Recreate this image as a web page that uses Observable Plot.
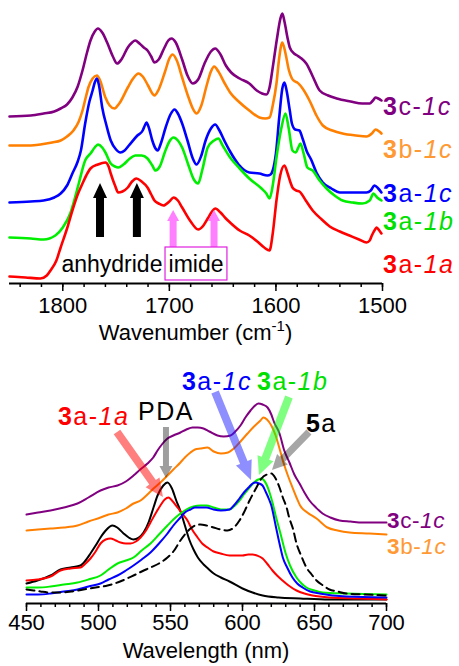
<!DOCTYPE html>
<html><head><meta charset="utf-8">
<script src="https://cdn.jsdelivr.net/npm/d3@7"></script>
<script src="https://cdn.jsdelivr.net/npm/@observablehq/plot@0.6"></script>
<style>
body{margin:0;background:#fff;}
#chart{width:459px;height:666px;}
#chart svg{display:block;}
</style></head><body><div id="chart"></div>
<script>
const FONT = '"Liberation Sans", Arial, Helvetica, sans-serif';

// ---------- IR spectra (wavenumber cm-1, offset absorbance a.u.) ----------
const ir3c1c = [[1850,167],[1830,168],[1818,170],[1808,172],[1802,175],[1796,179],[1791,186],[1786,197],[1781.5,213],[1777,232],[1774,243],[1770,252],[1767,255],[1763,251],[1758,240],[1753,227],[1749,220],[1745,224],[1739,236],[1735,241],[1732,243],[1728,240],[1724,236],[1720.5,233],[1717,227],[1714,221],[1710,224],[1705,235],[1701,243],[1698,245],[1694,241],[1688,224],[1683,208],[1678,200],[1673,204],[1667,220],[1661,232],[1657,235],[1652,229],[1647,218],[1642,211],[1634,205],[1625,200],[1618,193],[1613,190],[1609,189],[1606,196],[1603,216],[1599,245],[1596,264],[1594,270],[1592,262],[1589,245],[1587,236],[1583,230],[1580,228],[1576,225],[1571.5,220],[1565,206],[1559,193],[1551,188],[1543,185],[1530,182],[1519,180],[1512,180],[1509,183],[1506.5,186],[1504,185],[1501,183]];
const ir3b1c = [[1850,138],[1830,138],[1821,139],[1810,141],[1802,143],[1796,147],[1790,153],[1785,162],[1781.5,173],[1778,188],[1776,196],[1772,205],[1768,208],[1765,203],[1760,186],[1756,178],[1751.5,175],[1747,180],[1739,196],[1734,205],[1729,210],[1725,207],[1720,198],[1716,190],[1714,188],[1710,194],[1704,212],[1700,225],[1697,229],[1693,223],[1688,206],[1682,186],[1678,175],[1674.5,170],[1670,178],[1665,198],[1661,212],[1658,217],[1654,212],[1648,200],[1643,191],[1635,182],[1625,173],[1615.5,166],[1610,165],[1606,166],[1603,178],[1599.5,200],[1597,225],[1594,241],[1591,230],[1588,214],[1585,205],[1582,202],[1580,201],[1575,195],[1568.5,183],[1562,168],[1556,158],[1547,153],[1537.5,150],[1525,148],[1515,147],[1510,150],[1506.5,154],[1503,152],[1501,150]];
const ir3a1c = [[1850,81],[1830,82],[1818,83],[1808,86],[1802,90],[1796,98],[1791,110],[1786,122],[1783,133],[1779,160],[1775,182],[1772,193],[1770,201],[1768,205],[1766,198],[1763,176],[1759,158],[1755,143],[1750,134],[1746,131],[1742,133],[1738,138],[1730,148],[1725,153],[1723,158],[1721.5,161],[1719,155],[1716,143],[1713,135],[1711,133],[1708,140],[1703.5,156],[1699,169],[1695,174],[1692,170],[1688,160],[1683,143],[1678,125],[1674.5,119],[1670,128],[1666,143],[1661,155],[1657,159],[1653,153],[1648,142],[1643,132],[1635,119],[1625,111],[1615.5,110],[1608,108],[1605,109],[1603,113],[1600,130],[1597,165],[1594,195],[1592,201],[1590,193],[1587,173],[1585,160],[1582,154],[1578,153],[1575,145],[1571,132],[1567,124],[1562,111],[1556,101],[1548,95],[1540,91],[1528,91],[1515,91],[1511,93],[1507.5,98],[1504,95],[1501,91]];
const ir3a1b = [[1850,46],[1830,45],[1818,44],[1807,48],[1800,56],[1793,70],[1789,84],[1785,100],[1779,123],[1774,130],[1770,136],[1767,139],[1763,136],[1760,131],[1755,120],[1751,117],[1748,116],[1743,119],[1737,125],[1732,128],[1726,128],[1720.5,125],[1716,118],[1713,113],[1709,117],[1704,132],[1700,142],[1696,146],[1692,143],[1688,136],[1682,118],[1677,104],[1673,100],[1669,114],[1664,136],[1658,143],[1654,145],[1650,138],[1643,126],[1634,115],[1625,105],[1613.5,95],[1609,90],[1606,85],[1603,98],[1599.5,126],[1595,155],[1591,170],[1588,155],[1584.5,133],[1581.5,131],[1579,136],[1577,140],[1574,130],[1570.5,116],[1565.5,113],[1559,103],[1552.5,95],[1545,88],[1537.5,83],[1528,81],[1519,80],[1512,83],[1508.5,90],[1505,86],[1501,83]];
const ir3a1a = [[1850,7],[1835,6],[1821,5],[1815,8],[1811.5,13],[1806,23],[1802,36],[1796,55],[1791,73],[1786,89],[1781.5,100],[1777,110],[1774,115],[1767,119],[1760,121],[1757,117],[1755,110],[1751,98],[1748,91],[1744,92],[1739,96],[1735,102],[1731,105],[1726,102],[1720.5,96],[1717,89],[1714,83],[1710,80],[1705.5,78],[1700,82],[1696,86],[1692,83],[1688,76],[1680,62],[1673,54],[1668,58],[1664,65],[1660,72],[1657,75],[1652,71],[1647,65],[1643,61],[1634,53],[1625,48],[1617.5,42],[1611,36],[1606,33],[1603,50],[1599.5,83],[1596,108],[1592,118],[1589,110],[1586,100],[1584.5,96],[1581,93],[1578,92],[1572,83],[1565.5,73],[1557,64],[1549.5,57],[1540,52],[1531,48],[1522,44],[1515,41],[1512,43],[1510,48],[1507,54],[1505.5,56],[1503,53],[1501,50]];
const irNames  = ["3c-1c","3b-1c","3a-1c","3a-1b","3a-1a"];
const irValues = [ir3c1c, ir3b1c, ir3a1c, ir3a1b, ir3a1a];
const irMajorTicks = [1800,1700,1600,1500];
const irMinorTicks = d3.range(1500, 1841, 20);

// ---------- UV-vis spectra (wavelength nm, offset absorbance a.u.) ----------
const uv3c1c = [[450,89],[458,91],[466.7,93],[476,96],[485.4,100],[493,106],[501.4,113],[507,116],[513.2,118],[519,122],[524.3,128],[529,134],[534,140],[538,146],[541,153],[544,159],[547.9,165],[552,168],[556.9,171],[561,174],[565.3,176],[569,176],[572.9,175],[577,172],[582.6,168],[587,167],[591.7,168],[595,172],[598.6,178],[602,186],[605.6,193],[608,197],[611,200],[614,199],[617.4,196],[620,189],[622,181],[625.7,170],[629,153],[632.6,141],[636,129],[639.6,120],[643,111],[646.5,103],[651,96],[655.6,90],[661,86],[667.4,83],[675,82],[683.3,81],[700,81]];
const uv3b1c = [[450,73],[458,74],[466.7,75],[476,76],[485.4,78],[493,82],[501.4,86],[507,89],[513.2,91],[519,95],[524.3,100],[529.2,103],[534,109],[538.2,115],[543,121],[547.9,128],[552,134],[556.9,141],[560,146],[563.9,151],[567,154],[570.8,155],[575.7,156],[580,152],[585,150],[590,151],[594,155],[598.6,162],[603.5,170],[608,177],[612.5,183],[614.5,186],[617,184],[620,178],[623,168],[625.7,155],[628,143],[631,130],[634.7,116],[637.5,106],[640,98],[645,91],[651.4,85],[659,76],[666,73],[674.3,71],[688.2,70],[700,69]];
const uvPDA  = [[450,20],[457.6,23],[466.7,28],[473.6,34],[480.6,36],[487.5,38],[491,43],[494.4,50],[498,58],[501.4,66],[505,73],[509.7,78],[513,76],[517.4,70],[521,66],[524.3,64],[528,66],[531.3,71],[535,82],[538.2,96],[541,108],[545,118],[547.9,121],[551,115],[554,103],[557,92],[560,78],[563,64],[566,54],[569,46],[573,39],[576,35],[580,30],[585,26],[591,22],[600,15],[607,11],[614,8],[625,6],[640,5],[660,4],[700,4]];
const uv3a1a = [[450,23],[457.6,24],[466.7,27],[473.6,33],[480.6,35],[487.5,36],[491,40],[494.4,45],[498,52],[501.4,60],[505,64],[508.3,65],[512,63],[515.3,61],[519,60],[522.2,60],[526,62],[529.2,66],[533,73],[536.1,81],[540,91],[543,98],[546,104],[548.6,106],[551,103],[554.9,96],[558,90],[561.8,83],[565,74],[568.8,66],[572,60],[575.7,56],[580,52],[584.7,50],[591,48],[596,48],[600,48],[604,49],[607,49],[610,48],[614,45],[617,40],[620.8,33],[624,28],[627.8,23],[632,18],[637.5,13],[643,10],[648.6,8],[660.4,6],[680,5],[700,4]];
const uv3a1b = [[450,16],[458,16],[466.7,17],[476,19],[485.4,21],[493,24],[501.4,28],[507,34],[513.2,40],[519,43],[524.3,46],[530,53],[536.1,60],[542,69],[547.9,78],[552,84],[556.9,90],[561,94],[566,97],[570.8,98],[575,98],[579.9,96],[585,94],[591,94],[594,97],[597.9,103],[601,109],[604.9,116],[608,121],[611,124],[613,125],[615,123],[617,118],[619,110],[621,100],[623,88],[626,72],[630,50],[633,38],[637.5,26],[641,20],[644.4,16],[650,13],[655.6,11],[672,10],[700,9]];
const uv3a1c = [[450,9],[458,9],[466.7,10],[476,12],[485.4,14],[493,17],[501.4,20],[507,24],[513.2,28],[519,33],[524.3,38],[530,44],[536.1,51],[542,60],[547.9,70],[552,78],[556.9,86],[560,91],[563.9,94],[567,96],[570.8,96],[575,96],[579.9,94],[585,93],[591,94],[594,98],[597.9,105],[601,111],[604.9,117],[607,120],[609,121],[611.5,120],[613.9,118],[616,112],[618.75,103],[620,98],[623,78],[626,58],[628,46],[631,36],[634.7,26],[638,20],[641.7,16],[647,12],[653.5,10],[672,7],[700,6]];
const uv5a   = [[450,14],[455,13],[459.7,12],[466,11],[473.6,11],[481,12],[489.6,14],[498,16],[506.3,18],[515,22],[524.3,28],[530,32],[536.1,36],[542,40],[547.9,46],[552,52],[556.9,63],[560,69],[563.9,75],[567,78],[570.8,79],[575,78],[579.9,76],[585,74],[589.6,73],[594,76],[597.9,83],[601,91],[604.9,103],[609.7,116],[613.2,125],[617,129],[620,130],[623,125],[625.7,116],[628,106],[630.6,96],[632.6,85],[635,75],[637.5,60],[641,47],[644.4,36],[648,29],[651.4,23],[656,18],[660.4,14],[666,12],[672,10],[685,9],[700,8]];
const uvNames  = ["3c-1c","3b-1c","PDA","3a-1a","3a-1b","3a-1c"];
const uvValues = [uv3c1c, uv3b1c, uvPDA, uv3a1a, uv3a1b, uv3a1c];
const uvMajorTicks = [450,500,550,600,650,700];
const uvMinorTicks = d3.range(450, 701, 10);

// ---------- styles ----------
const irColors = ["#800080","#ff7f00","#0000ff","#00ee00","#ff0000"];
const uvColors = ["#800080","#ff7f00","#000000","#ff0000","#00ee00","#0000ff"];

const irRows = irNames.flatMap((s, i) => irValues[i].map(([wn, a]) => ({wn, a, series: s})));
const uvRows = uvNames.flatMap((s, i) => uvValues[i].map(([nm, a]) => ({nm, a, series: s})));
const uv5aRows = uv5a.map(([nm, a]) => ({nm, a}));

function axisMarks(major, minor, pad) {
  return [
    Plot.ruleY([0], {strokeWidth: 2}),
    Plot.axisX({ticks: minor, tickSize: 4, strokeWidth: 1.5, fill: "none", label: null}),
    Plot.axisX({ticks: major, tickSize: 8, tickPadding: pad, strokeWidth: 1.5, fontSize: 22,
                fill: "black", tickFormat: d => String(d), label: null})
  ];
}

const topPlot = Plot.plot({
  width: 459, height: 345, marginLeft: 9, marginRight: 77, marginTop: 0, marginBottom: 62,
  style: {fontFamily: FONT, background: "white", overflow: "visible"},
  x: {domain: [1850, 1500], axis: null},
  y: {domain: [0, 283], axis: null},
  color: {domain: irNames, range: irColors},
  marks: [
    Plot.line(irRows, {x: "wn", y: "a", z: "series", stroke: "series", strokeWidth: 2.6, curve: "monotone-x"}),
    ...axisMarks(irMajorTicks, irMinorTicks, 6)
  ]
});

const botPlot = Plot.plot({
  width: 459, height: 321, marginLeft: 26, marginRight: 73, marginTop: 0, marginBottom: 63,
  style: {fontFamily: FONT, background: "white", overflow: "visible"},
  x: {domain: [450, 700], axis: null},
  y: {domain: [0, 258], axis: null},
  color: {domain: uvNames, range: uvColors},
  marks: [
    Plot.line(uvRows, {x: "nm", y: "a", z: "series", stroke: "series", strokeWidth: 2, curve: "monotone-x"}),
    Plot.line(uv5aRows, {x: "nm", y: "a", stroke: "black", strokeWidth: 2, strokeDasharray: "8,5", curve: "monotone-x"}),
    ...axisMarks(uvMajorTicks, uvMinorTicks, 3)
  ]
});

// ---------- annotations ----------
const labelCol = {"3c-1c":"#800080","3b-1c":"#ff9933","3a-1c":"#0000ff","3a-1b":"#00e000","3a-1a":"#ff0000","PDA":"#000","5a":"#000"};
function parts(name) {
  if (name === "PDA") return [["PDA",""]];
  if (name === "5a") return [["5","b"],["a",""]];
  const [a, b] = name.split("-");
  return [[a[0],"b"],[a.slice(1) + "-",""],[b,"i"]];
}
function richText(svg, x, y, name, size, ls, anchor = "start") {
  const t = d3.select(svg).append("text").attr("x", x).attr("y", y)
    .attr("font-family", FONT).attr("font-size", size).attr("letter-spacing", ls)
    .attr("fill", labelCol[name]).attr("text-anchor", anchor);
  for (const [s, f] of parts(name)) {
    t.append("tspan").attr("font-weight", f === "b" ? "bold" : null)
      .attr("font-style", f === "i" ? "italic" : null).text(s);
  }
}
function arrow(svg, p1, p2, sw, hw, hl, fill) {
  const [x1, y1] = p1, [x2, y2] = p2;
  const L = Math.hypot(x2 - x1, y2 - y1), ux = (x2 - x1) / L, uy = (y2 - y1) / L, nx = -uy, ny = ux;
  const bx = x2 - ux * hl, by = y2 - uy * hl;
  const pts = [[x1 + nx*sw/2, y1 + ny*sw/2], [bx + nx*sw/2, by + ny*sw/2], [bx + nx*hw/2, by + ny*hw/2],
               [x2, y2], [bx - nx*hw/2, by - ny*hw/2], [bx - nx*sw/2, by - ny*sw/2], [x1 - nx*sw/2, y1 - ny*sw/2]];
  d3.select(svg).append("path").attr("d", "M" + pts.map(p => p.join(",")).join("L") + "Z").attr("fill", fill);
}
function axisTitle(svg, plot, y, build) {
  const [r0, r1] = plot.scale("x").range;
  const t = d3.select(svg).append("text").attr("x", (r0 + r1) / 2).attr("y", y)
    .attr("font-family", FONT).attr("font-size", 22).attr("text-anchor", "middle").attr("fill", "black");
  build(t);
}

// top panel annotations (data coordinates)
const irLabels = [["3c-1c",1499,168],["3b-1c",1499,125],["3a-1c",1499,81],["3a-1b",1499,53],["3a-1a",1499,10]];
const irArrows = [[1764.6,46,100,"black"],[1730,46,100,"black"],[1696,36,73,"#ff80ff"],[1657.6,36,73,"#ff80ff"]];
{
  const X = topPlot.scale("x"), Y = topPlot.scale("y");
  for (const [x, a0, a1, c] of irArrows) {
    const black = c === "black";
    arrow(topPlot, [X.apply(x), Y.apply(a0)], [X.apply(x), Y.apply(a1)], black ? 8 : 7, black ? 14 : 12, black ? 15 : 11, c);
  }
  for (const [n, x, a] of irLabels) richText(topPlot, X.apply(x), Y.apply(a), n, 25, 1.5);
  d3.select(topPlot).append("rect")
    .attr("x", X.apply(1703.6)).attr("y", Y.apply(36))
    .attr("width", X.apply(1645.5) - X.apply(1703.6)).attr("height", Y.apply(3) - Y.apply(36))
    .attr("fill", "none").attr("stroke", "#e020e0").attr("stroke-width", 1.2);
  d3.select(topPlot).append("text").attr("x", X.apply(1753.4)).attr("y", Y.apply(11))
    .attr("font-family", FONT).attr("font-size", 23).attr("text-anchor", "middle").text("anhydride");
  d3.select(topPlot).append("text").attr("x", X.apply(1674.5)).attr("y", Y.apply(11))
    .attr("font-family", FONT).attr("font-size", 23).attr("text-anchor", "middle").text("imide");
  axisTitle(topPlot, topPlot, 340, t => {
    t.append("tspan").text("Wavenumber (cm");
    t.append("tspan").attr("font-size", 15).attr("dy", -9).text("-1");
    t.append("tspan").attr("dy", 9).text(")");
  });
}

// bottom panel annotations (data coordinates)
const uvLabels = [["3a-1a",472.2,178,25,1.5],["PDA",527.8,183,25,1.5],["3a-1c",558.3,213,25,1.5],
                  ["3a-1b",610.4,213,25,1.5],["5a",644.4,171,25,1.5],["3c-1c",700.7,75,22.5,0.6],["3b-1c",700.7,49,22.5,0.6]];
const uvArrows = [
  [[513.2,171],[545.1,106],"rgba(255,0,0,0.5)",8,17,18],
  [[547.2,176],[547.2,125],"rgba(0,0,0,0.38)",6,13,12],
  [[581.3,211],[606.25,123],"rgba(30,30,255,0.5)",8,17,19],
  [[632.6,206],[611.8,128],"rgba(0,255,0,0.5)",8,17,18],
  [[646.5,171],[620.8,133],"rgba(0,0,0,0.35)",7,15,15]
];
{
  const X = botPlot.scale("x"), Y = botPlot.scale("y");
  for (const [p1, p2, c, sw, hw, hl] of uvArrows)
    arrow(botPlot, [X.apply(p1[0]), Y.apply(p1[1])], [X.apply(p2[0]), Y.apply(p2[1])], sw, hw, hl, c);
  for (const [n, x, a, s, ls] of uvLabels) richText(botPlot, X.apply(x), Y.apply(a), n, s, ls);
  axisTitle(botPlot, botPlot, 313, t => t.text("Wavelength (nm)"));
}

document.getElementById("chart").append(topPlot, botPlot);
</script></body></html>
